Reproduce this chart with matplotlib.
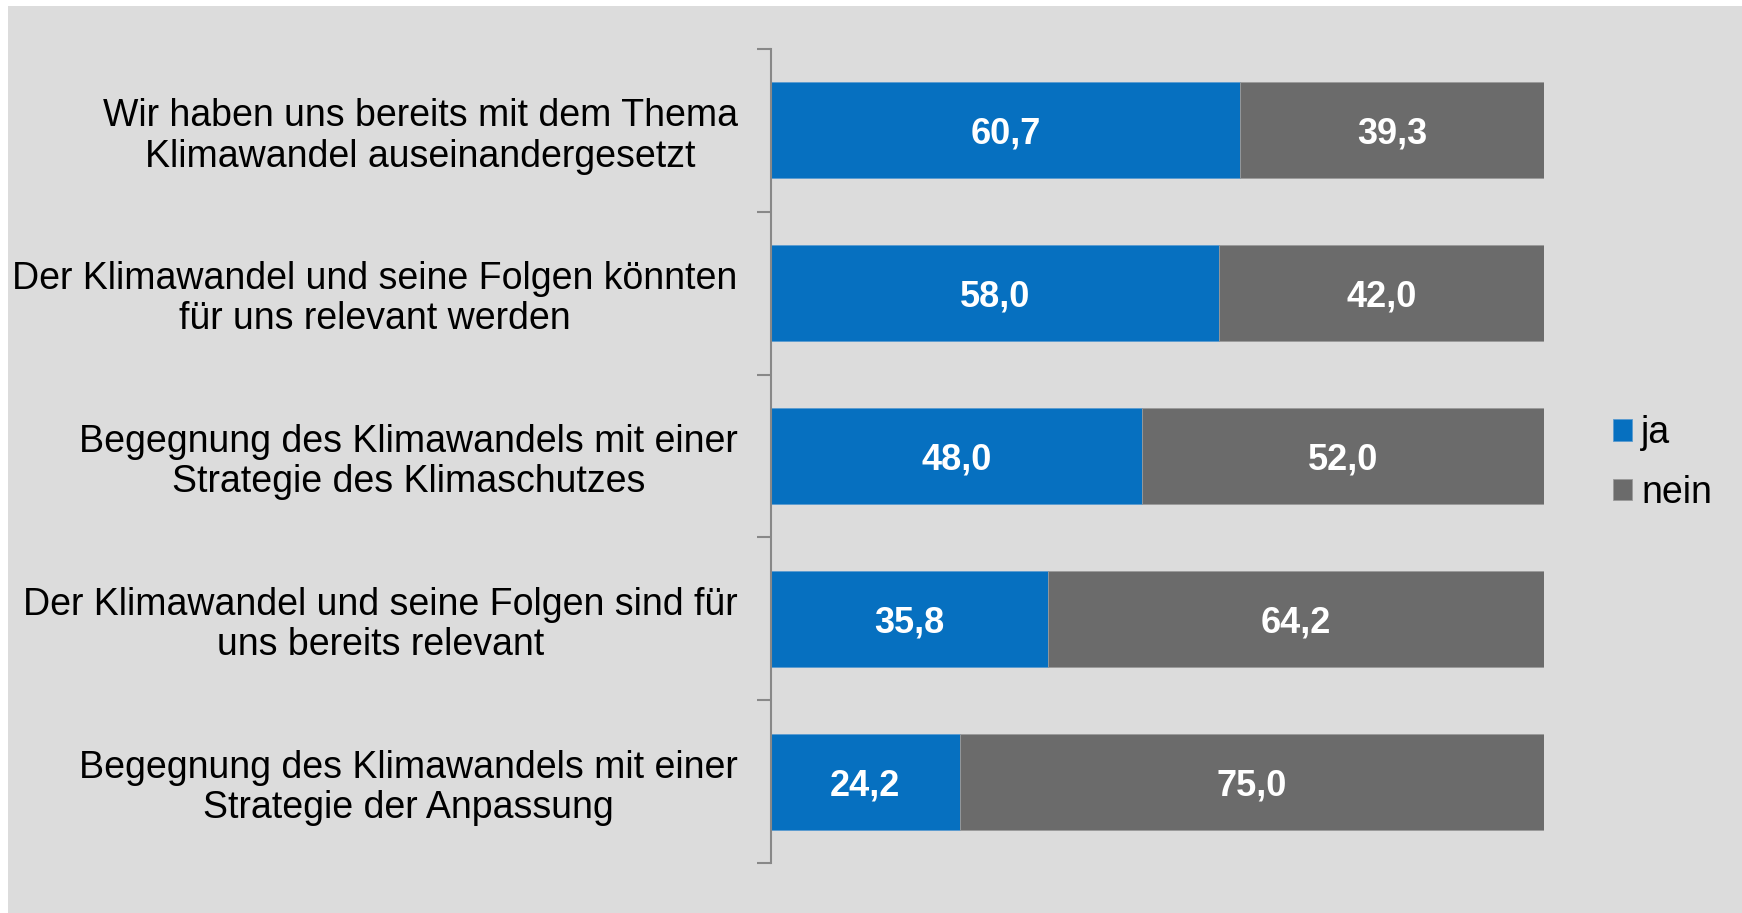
import numpy as np
import matplotlib.pyplot as plt
from matplotlib.patches import Rectangle

plt.rcParams['font.family'] = ['Liberation Sans', 'DejaVu Sans']

categories = [
    "Wir haben uns bereits mit dem Thema\nKlimawandel auseinandergesetzt",
    "Der Klimawandel und seine Folgen könnten\nfür uns relevant werden",
    "Begegnung des Klimawandels mit einer\nStrategie des Klimaschutzes",
    "Der Klimawandel und seine Folgen sind für\nuns bereits relevant",
    "Begegnung des Klimawandels mit einer\nStrategie der Anpassung",
]
ja = np.array([60.7, 58.0, 48.0, 35.8, 24.2])
nein = np.array([39.3, 42.0, 52.0, 64.2, 75.0])

BLUE = '#0670C0'
GREY = '#6B6B6B'
BG = '#DCDCDC'

W, H = 1742, 913
fig = plt.figure(figsize=(W / 100, H / 100), dpi=100)
fig.patch.set_facecolor('white')
fig.patches.append(Rectangle((8 / W, 0), 1 - 8 / W, 1 - 6 / H, transform=fig.transFigure,
                             facecolor=BG, edgecolor='none', zorder=-10))

ax = fig.add_axes([771 / W, 50 / H, (1544 - 771) / W, (864 - 50) / H])
ax.set_facecolor('none')

# 100% stacked: shares of each row total
total = ja + nein
ja_s = ja / total
nein_s = nein / total
y = np.arange(len(categories))

b1 = ax.barh(y, ja_s, height=0.59, color=BLUE, edgecolor='#5a9bd0', linewidth=0.6, label='ja')
b2 = ax.barh(y, nein_s, left=ja_s, height=0.59, color=GREY, edgecolor='#9a9a9a', linewidth=0.6, label='nein')

for i in range(len(categories)):
    ax.text(ja_s[i] / 2, y[i], f"{ja[i]:.1f}".replace('.', ','), ha='center', va='center_baseline',
            color='white', fontsize=26, fontweight='bold')
    ax.text(ja_s[i] + nein_s[i] / 2, y[i], f"{nein[i]:.1f}".replace('.', ','), ha='center', va='center_baseline',
            color='white', fontsize=26, fontweight='bold')

ax.set_xlim(0, 1)
ax.set_ylim(len(categories) - 0.5, -0.5)
ax.set_xticks([])
ax.set_yticks(y)
ax.set_yticklabels(categories, fontsize=27, multialignment='center', linespacing=1.15)
ax.tick_params(axis='y', length=0, pad=24)
ax.set_yticks(np.arange(-0.5, len(categories)), minor=True)
ax.tick_params(axis='y', which='minor', length=10, color='#888888', width=1.5)
for s in ['top', 'right', 'bottom']:
    ax.spines[s].set_visible(False)
ax.spines['left'].set_color('#888888')
ax.spines['left'].set_linewidth(1.5)

fig.legend(handles=[b1, b2], labels=['ja', 'nein'], loc='center left',
           bbox_to_anchor=(1613 / W, 1 - 463 / H), frameon=False, fontsize=27,
           borderpad=0, borderaxespad=0,
           handlelength=0.5, handleheight=0.5, handletextpad=0.25, labelspacing=0.62)

fig.savefig('out.png', dpi=100, facecolor='white')
